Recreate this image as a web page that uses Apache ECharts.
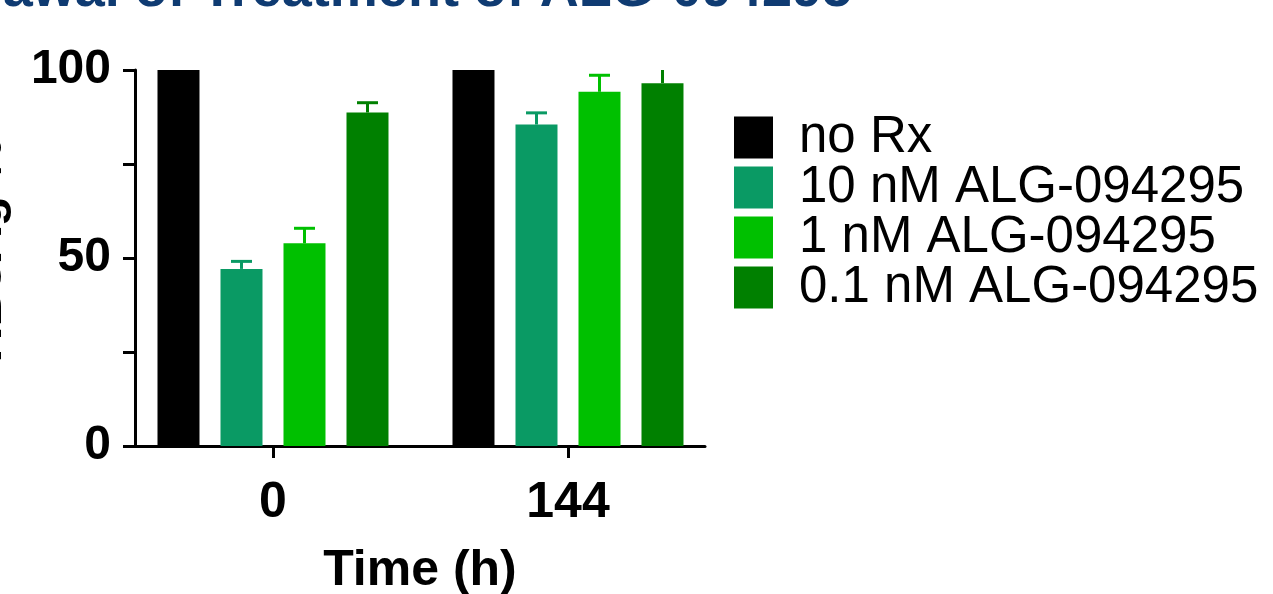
<!DOCTYPE html>
<html>
<head>
<meta charset="utf-8">
<script src="https://cdn.jsdelivr.net/npm/echarts@6/dist/echarts.min.js"></script>
<style>
html,body{margin:0;padding:0;background:#fff;}
#chart{width:1273px;height:594px;}
</style>
</head>
<body>
<div id="chart"></div>
<script>
const categories = ['0', '144'];
const seriesNames = ['no Rx', '10 nM ALG-094295', '1 nM ALG-094295', '0.1 nM ALG-094295'];
const noRx = [100, 100];
const nM10 = [47.1, 85.5];
const nM1 = [53.9, 94.2];
const nM01 = [88.7, 96.5];
const errNoRx = [0, 0];
const errNM10 = [2.0, 3.1];
const errNM1 = [4.0, 4.4];
const errNM01 = [2.6, 4.5];
const colors = ['#000000', '#0a9a64', '#00c000', '#008000'];
const yTicks = [0, 50, 100];
const titleText = 'Withdrawal of Treatment of ALG-094295';
const yAxisTitle = 'HBsAg %';
const xAxisTitle = 'Time (h)';

const xPos = categories.map(Number);
const values = [noRx, nM10, nM1, nM01];
const errors = [errNoRx, errNM10, errNM1, errNM01];

const BAR_W = 42, BAR_GAP = 21;
const FONT = '"Liberation Sans", Arial, sans-serif';

const series = [];
values.forEach((v, i) => {
  series.push({
    name: seriesNames[i], type: 'bar', data: v.map((val, k) => [xPos[k], val]),
    barWidth: BAR_W, barGap: (BAR_GAP / BAR_W * 100) + '%',
    itemStyle: { color: colors[i] }, z: 2
  });
});
values.forEach((v, i) => {
  const data = v.map((val, k) => [xPos[k], val, errors[i][k]]);
  series.push({
    type: 'custom', name: 'err' + i, z: 3,
    clip: true,
    data: data,
    encode: { x: 0, y: 1 },
    renderItem: function (params, api) {
      const xv = api.value(0), val = api.value(1), e = api.value(2);
      if (!e) return null;
      const base = api.coord([xv, val]);
      const top = api.coord([xv, val + e]);
      const x = base[0] + (i - 1.5) * (BAR_W + BAR_GAP);
      const style = { stroke: colors[i], lineWidth: 3 };
      return {
        type: 'group',
        children: [
          { type: 'line', shape: { x1: x, y1: base[1], x2: x, y2: top[1] }, style: style },
          { type: 'line', shape: { x1: x - 10.5, y1: top[1], x2: x + 10.5, y2: top[1] }, style: style }
        ]
      };
    }
  });
});

const chart = echarts.init(document.getElementById('chart'), null, { renderer: 'canvas' });
chart.setOption({
  animation: false,
  backgroundColor: '#ffffff',
  graphic: [
    { type: 'text', x: 852, y: 18, style: { text: titleText, font: 'bold 54px ' + FONT, fill: '#0f3b72', textAlign: 'right', textVerticalAlign: 'bottom' } },
    { type: 'text', x: -13, y: 250, rotation: Math.PI / 2, style: { text: yAxisTitle, font: 'bold 50px ' + FONT, fill: '#000', textAlign: 'center', textVerticalAlign: 'middle' } }
  ],
  grid: { left: 135, top: 70, width: 570, height: 376, containLabel: false, outerBoundsMode: 'none' },
  legend: {
    data: seriesNames, orient: 'vertical', left: 734, top: 112, padding: 0,
    icon: 'rect', itemWidth: 39, itemHeight: 42, itemGap: -1,
    textStyle: { fontFamily: FONT, fontSize: 51, color: '#000', padding: [0, 0, 0, 21] }
  },
  xAxis: {
    type: 'value', min: -67.36, max: 210.88,
    splitLine: { show: false },
    axisLine: { onZero: false, lineStyle: { color: '#000', width: 3 } },
    axisTick: { show: true, customValues: xPos, length: 12, lineStyle: { color: '#000', width: 3 } },
    axisLabel: { customValues: xPos, formatter: function (v) { return categories[xPos.indexOf(v)] || ''; },
      color: '#000', fontFamily: FONT, fontWeight: 'bold', fontSize: 50, margin: 32 },
    name: xAxisTitle, nameLocation: 'middle', nameGap: 100,
    nameTextStyle: { color: '#000', fontFamily: FONT, fontWeight: 'bold', fontSize: 50 }
  },
  yAxis: {
    type: 'value', min: 0, max: 100, interval: 25,
    axisLine: { show: true, onZero: false, lineStyle: { color: '#000', width: 3 } },
    axisTick: { show: true, length: 12, lineStyle: { color: '#000', width: 3 } },
    splitLine: { show: false },
    axisLabel: {
      color: '#000', fontFamily: FONT, fontWeight: 'bold', fontSize: 48, margin: 24,
      formatter: function (v) { return yTicks.indexOf(v) >= 0 ? String(v) : ''; }
    }
  },
  series: series
});
</script>
</body>
</html>
